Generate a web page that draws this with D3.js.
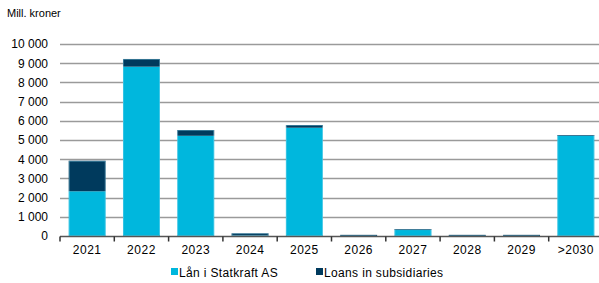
<!DOCTYPE html>
<html>
<head>
<meta charset="utf-8">
<script src="https://cdn.jsdelivr.net/npm/d3@7"></script>
<style>
  body { margin: 0; background: #fff; }
  svg text { font-family: "Liberation Sans", Arial, sans-serif; fill: #000; }
</style>
</head>
<body>
<svg id="chart" width="599" height="283"></svg>
<script>
const categories = ['2021', '2022', '2023', '2024', '2025', '2026', '2027', '2028', '2029', '>2030'];
const lanStatkraft = [2330, 8820, 5220, 20, 5640, 0, 310, 0, 0, 5210];
const loansSubs = [1590, 400, 300, 120, 140, 60, 50, 60, 60, 50];
const yTicks = [0, 1000, 2000, 3000, 4000, 5000, 6000, 7000, 8000, 9000, 10000];

const colors = { lan: '#00b7dd', subs: '#003a5d' };
const margin = { top: 44, right: -4, bottom: 47, left: 60 };
const width = 599, height = 283;

const svg = d3.select('#chart');

const data = categories.map((c, i) => ({ cat: c, lan: lanStatkraft[i], subs: loansSubs[i] }));
const stack = d3.stack().keys(['lan', 'subs'])(data);

const x = d3.scaleBand()
  .domain(categories)
  .range([margin.left, width - margin.right])
  .paddingInner(0.32)
  .paddingOuter(0.16);

const y = d3.scaleLinear()
  .domain([0, 10000])
  .range([height - margin.bottom, margin.top]);

// gridlines
svg.append('g')
  .selectAll('line')
  .data(yTicks.filter(d => d > 0))
  .enter()
  .append('line')
  .attr('x1', margin.left)
  .attr('x2', width)
  .attr('y1', d => Math.round(y(d)) + 0.5)
  .attr('y2', d => Math.round(y(d)) + 0.5)
  .style('stroke', '#9a9a9a')
  .style('stroke-width', 1.5);

// bars
svg.append('g')
  .selectAll('g')
  .data(stack)
  .enter()
  .append('g')
  .attr('fill', d => colors[d.key])
  .selectAll('rect')
  .data(d => d)
  .enter()
  .append('rect')
  .attr('x', d => x(d.data.cat))
  .attr('width', x.bandwidth())
  .attr('y', d => y(d[1]))
  .attr('height', d => Math.max(0, y(d[0]) - y(d[1])));

// thin light edge on bars
svg.append('g')
  .selectAll('rect')
  .data(data)
  .enter()
  .append('rect')
  .attr('x', d => x(d.cat) + 0.5)
  .attr('width', x.bandwidth() - 1)
  .attr('y', d => y(d.lan + d.subs) + 0.5)
  .attr('height', d => Math.max(0, y(0) - y(d.lan + d.subs) - 1))
  .attr('fill', 'none')
  .style('stroke', '#8fd9ee')
  .style('stroke-width', 0.6)
  .style('stroke-opacity', 0.6);

// x axis
const xAxis = svg.append('g')
  .attr('transform', `translate(0,${Math.round(y(0)) + 0.5})`)
  .call(d3.axisBottom(x).tickSize(0).tickSizeOuter(0));
xAxis.select('.domain').remove();
xAxis.append('line')
  .attr('x1', margin.left).attr('x2', width)
  .style('stroke', '#555').style('stroke-width', 1.5);
const step = x.step();
xAxis.selectAll('.sep')
  .data(d3.range(categories.length))
  .enter()
  .append('line')
  .attr('x1', i => margin.left + i * step)
  .attr('x2', i => margin.left + i * step)
  .attr('y1', 0).attr('y2', 5)
  .style('stroke', '#333').style('stroke-width', 1.5);
xAxis.selectAll('.tick text')
  .attr('dy', '0.71em')
  .attr('y', 9)
  .style('font-size', '12px')
  .style('letter-spacing', '0.5px')
  .style('font-family', '"Liberation Sans", Arial, sans-serif');

// y axis
const yAxis = svg.append('g')
  .attr('transform', `translate(${margin.left - 12},0)`)
  .call(d3.axisLeft(y).tickValues(yTicks).tickSize(0)
    .tickFormat(d => d3.format(',')(d).replace(/,/g, ' ')));
yAxis.select('.domain').remove();
yAxis.selectAll('.tick text')
  .attr('x', 0)
  .style('font-size', '12px')
  .style('font-family', '"Liberation Sans", Arial, sans-serif');

// unit label
svg.append('text')
  .attr('x', 7)
  .attr('y', 17)
  .style('font-size', '11px')
  .text('Mill. kroner');

// legend
const legendItems = [
  { label: 'Lån i Statkraft AS', color: colors.lan, x: 171 },
  { label: 'Loans in subsidiaries', color: colors.subs, x: 316 }
];
const legend = svg.append('g');
legendItems.forEach(item => {
  legend.append('rect')
    .attr('x', item.x).attr('y', 268)
    .attr('width', 7).attr('height', 7)
    .attr('fill', item.color);
  legend.append('text')
    .attr('x', item.x + 8)
    .attr('y', 277)
    .style('font-size', '12px')
    .style('letter-spacing', '0.35px')
    .text(item.label);
});
</script>
</body>
</html>
